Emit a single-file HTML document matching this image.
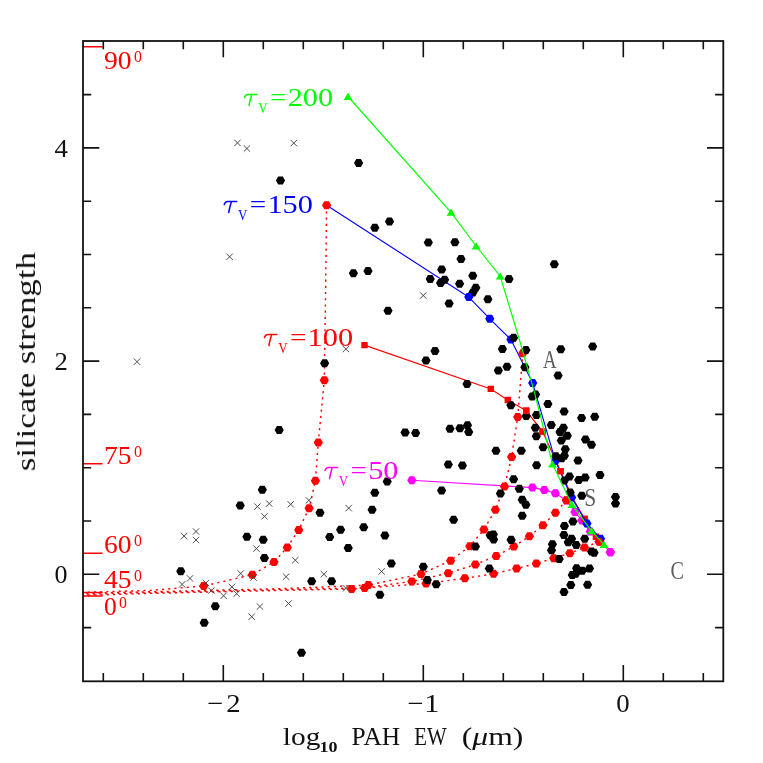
<!DOCTYPE html>
<html><head><meta charset="utf-8"><title>silicate strength vs PAH EW</title>
<style>html,body{margin:0;padding:0;background:#fff}svg{display:block}text{font-family:"Liberation Serif",serif}</style></head><body>
<svg width="763" height="763" viewBox="0 0 763 763">
<rect width="763" height="763" fill="#fff"/>
<g opacity="0.999">
<path d="M477.5,292.5L475.2,296.5L470.6,296.5L468.3,292.5L470.6,288.5L475.2,288.5Z" fill="#000"/>
<path d="M411.8,480.2 L532.4,487.6 L544.3,489.9 L555.4,493.3 L566.4,500.5 L575.0,512.0 L581.8,520.5 L590.3,531.6 L600.0,541.5 L610.3,552.2" stroke="#f0f" stroke-width="1.15" fill="none"/>
<path d="M416.4,480.2L414.1,484.2L409.5,484.2L407.2,480.2L409.5,476.2L414.1,476.2Z M537.0,487.6L534.7,491.6L530.1,491.6L527.8,487.6L530.1,483.6L534.7,483.6Z M548.9,489.9L546.6,493.9L542.0,493.9L539.7,489.9L542.0,485.9L546.6,485.9Z M560.0,493.3L557.7,497.3L553.1,497.3L550.8,493.3L553.1,489.3L557.7,489.3Z M571.0,500.5L568.7,504.5L564.1,504.5L561.8,500.5L564.1,496.5L568.7,496.5Z M579.6,512.0L577.3,516.0L572.7,516.0L570.4,512.0L572.7,508.0L577.3,508.0Z M586.4,520.5L584.1,524.5L579.5,524.5L577.2,520.5L579.5,516.5L584.1,516.5Z M594.9,531.6L592.6,535.6L588.0,535.6L585.7,531.6L588.0,527.6L592.6,527.6Z M604.6,541.5L602.3,545.5L597.7,545.5L595.4,541.5L597.7,537.5L602.3,537.5Z M614.9,552.2L612.6,556.2L608.0,556.2L605.7,552.2L608.0,548.2L612.6,548.2Z" fill="#f0f"/>
<path d="M364.5,345.1 L490.8,388.9 L507.8,400.0 L526.2,410.8 L542.6,431.6 L560.5,471.1 L573.5,499.5 L584.7,518.8 L595.9,536.7 L610.0,551.0" stroke="#f00" stroke-width="1.15" fill="none"/>
<path d="M361.3,341.9 h6.4 v6.4 h-6.4 Z M487.6,385.7 h6.4 v6.4 h-6.4 Z M504.6,396.8 h6.4 v6.4 h-6.4 Z M523.0,407.6 h6.4 v6.4 h-6.4 Z M539.4,428.4 h6.4 v6.4 h-6.4 Z M557.3,467.9 h6.4 v6.4 h-6.4 Z M581.5,515.6 h6.4 v6.4 h-6.4 Z M592.7,533.5 h6.4 v6.4 h-6.4 Z" fill="#f00"/>
<path d="M326.6,205.2 L468.8,297.1 L489.8,318.8 L510.9,339.5 L532.7,383.1 L555.4,460.9 L571.6,497.5 L586.9,523.4 L600.5,538.8 L610.0,551.0" stroke="#00f" stroke-width="1.15" fill="none"/>
<path d="M473.4,297.1L471.1,301.1L466.5,301.1L464.2,297.1L466.5,293.1L471.1,293.1Z M494.4,318.8L492.1,322.8L487.5,322.8L485.2,318.8L487.5,314.8L492.1,314.8Z M515.5,339.5L513.2,343.5L508.6,343.5L506.3,339.5L508.6,335.5L513.2,335.5Z M537.3,383.1L535.0,387.1L530.4,387.1L528.1,383.1L530.4,379.1L535.0,379.1Z M560.0,460.9L557.7,464.9L553.1,464.9L550.8,460.9L553.1,456.9L557.7,456.9Z M576.2,497.5L573.9,501.5L569.3,501.5L567.0,497.5L569.3,493.5L573.9,493.5Z M591.5,523.4L589.2,527.4L584.6,527.4L582.3,523.4L584.6,519.4L589.2,519.4Z M605.1,538.8L602.8,542.8L598.2,542.8L595.9,538.8L598.2,534.8L602.8,534.8Z" fill="#00f"/>
<path d="M326.6,205.2 L326.1,250.0 L325.2,320.0 L324.3,380.2 L318.3,442.4 L315.4,480.8 L309.1,508.2 L298.7,529.9 L287.3,547.4 L274.0,562.0 L252.3,574.7 L203.7,586.0 L150.0,590.4 L83.0,592.4" stroke="#f00" stroke-width="1.45" stroke-dasharray="2.1 4.1" fill="none"/>
<path d="M522.8,353.2 L517.7,417.1 L511.6,457.1 L504.5,486.6 L495.4,509.8 L483.9,529.5 L469.8,546.2 L450.6,560.7 L421.0,574.0 L368.3,585.1 L280.0,588.7 L150.0,591.8 L83.0,593.2" stroke="#f00" stroke-width="1.45" stroke-dasharray="2.1 4.1" fill="none"/>
<path d="M566.4,500.2 L555.4,512.8 L543.0,525.2 L529.4,536.2 L513.8,546.6 L496.2,555.9 L475.4,564.6 L448.2,573.2 L411.8,581.4 L364.6,587.9 L280.0,589.6 L150.0,592.6 L83.0,594.3" stroke="#f00" stroke-width="1.45" stroke-dasharray="2.1 4.1" fill="none"/>
<path d="M599.0,541.7 L584.5,547.5 L569.8,553.2 L553.7,558.3 L536.3,563.5 L516.6,568.4 L493.6,573.8 L464.8,578.3 L426.0,583.5 L351.6,589.0 L280.0,590.4 L150.0,593.4 L83.0,595.4" stroke="#f00" stroke-width="1.45" stroke-dasharray="2.1 4.1" fill="none"/>
<path d="M331.2,205.2L328.9,209.2L324.3,209.2L322.0,205.2L324.3,201.2L328.9,201.2Z M328.9,380.2L326.6,384.2L322.0,384.2L319.7,380.2L322.0,376.2L326.6,376.2Z M322.9,442.4L320.6,446.4L316.0,446.4L313.7,442.4L316.0,438.4L320.6,438.4Z M320.0,480.8L317.7,484.8L313.1,484.8L310.8,480.8L313.1,476.8L317.7,476.8Z M313.7,508.2L311.4,512.2L306.8,512.2L304.5,508.2L306.8,504.2L311.4,504.2Z M303.3,529.9L301.0,533.9L296.4,533.9L294.1,529.9L296.4,525.9L301.0,525.9Z M291.9,547.4L289.6,551.4L285.0,551.4L282.7,547.4L285.0,543.4L289.6,543.4Z M278.6,562.0L276.3,566.0L271.7,566.0L269.4,562.0L271.7,558.0L276.3,558.0Z M256.9,574.7L254.6,578.7L250.0,578.7L247.7,574.7L250.0,570.7L254.6,570.7Z M208.3,586.0L206.0,590.0L201.4,590.0L199.1,586.0L201.4,582.0L206.0,582.0Z" fill="#f00"/>
<path d="M527.4,353.2L525.1,357.2L520.5,357.2L518.2,353.2L520.5,349.2L525.1,349.2Z M522.3,417.1L520.0,421.1L515.4,421.1L513.1,417.1L515.4,413.1L520.0,413.1Z M516.2,457.1L513.9,461.1L509.3,461.1L507.0,457.1L509.3,453.1L513.9,453.1Z M509.1,486.6L506.8,490.6L502.2,490.6L499.9,486.6L502.2,482.6L506.8,482.6Z M500.0,509.8L497.7,513.8L493.1,513.8L490.8,509.8L493.1,505.8L497.7,505.8Z M488.5,529.5L486.2,533.5L481.6,533.5L479.3,529.5L481.6,525.5L486.2,525.5Z M474.4,546.2L472.1,550.2L467.5,550.2L465.2,546.2L467.5,542.2L472.1,542.2Z M455.2,560.7L452.9,564.7L448.3,564.7L446.0,560.7L448.3,556.7L452.9,556.7Z M425.6,574.0L423.3,578.0L418.7,578.0L416.4,574.0L418.7,570.0L423.3,570.0Z M372.9,585.1L370.6,589.1L366.0,589.1L363.7,585.1L366.0,581.1L370.6,581.1Z" fill="#f00"/>
<path d="M571.0,500.2L568.7,504.2L564.1,504.2L561.8,500.2L564.1,496.2L568.7,496.2Z M560.0,512.8L557.7,516.8L553.1,516.8L550.8,512.8L553.1,508.8L557.7,508.8Z M547.6,525.2L545.3,529.2L540.7,529.2L538.4,525.2L540.7,521.2L545.3,521.2Z M534.0,536.2L531.7,540.2L527.1,540.2L524.8,536.2L527.1,532.2L531.7,532.2Z M518.4,546.6L516.1,550.6L511.5,550.6L509.2,546.6L511.5,542.6L516.1,542.6Z M500.8,555.9L498.5,559.9L493.9,559.9L491.6,555.9L493.9,551.9L498.5,551.9Z M480.0,564.6L477.7,568.6L473.1,568.6L470.8,564.6L473.1,560.6L477.7,560.6Z M452.8,573.2L450.5,577.2L445.9,577.2L443.6,573.2L445.9,569.2L450.5,569.2Z M416.4,581.4L414.1,585.4L409.5,585.4L407.2,581.4L409.5,577.4L414.1,577.4Z M369.2,587.9L366.9,591.9L362.3,591.9L360.0,587.9L362.3,583.9L366.9,583.9Z" fill="#f00"/>
<path d="M603.6,541.7L601.3,545.7L596.7,545.7L594.4,541.7L596.7,537.7L601.3,537.7Z M589.1,547.5L586.8,551.5L582.2,551.5L579.9,547.5L582.2,543.5L586.8,543.5Z M574.4,553.2L572.1,557.2L567.5,557.2L565.2,553.2L567.5,549.2L572.1,549.2Z M558.3,558.3L556.0,562.3L551.4,562.3L549.1,558.3L551.4,554.3L556.0,554.3Z M540.9,563.5L538.6,567.5L534.0,567.5L531.7,563.5L534.0,559.5L538.6,559.5Z M521.2,568.4L518.9,572.4L514.3,572.4L512.0,568.4L514.3,564.4L518.9,564.4Z M498.2,573.8L495.9,577.8L491.3,577.8L489.0,573.8L491.3,569.8L495.9,569.8Z M469.4,578.3L467.1,582.3L462.5,582.3L460.2,578.3L462.5,574.3L467.1,574.3Z M430.6,583.5L428.3,587.5L423.7,587.5L421.4,583.5L423.7,579.5L428.3,579.5Z M356.2,589.0L353.9,593.0L349.3,593.0L347.0,589.0L349.3,585.0L353.9,585.0Z" fill="#f00"/>
<path d="M234.3,139.7 l6.4,6.4 M234.3,146.1 l6.4,-6.4 M243.7,145.3 l6.4,6.4 M243.7,151.7 l6.4,-6.4 M290.6,139.9 l6.4,6.4 M290.6,146.3 l6.4,-6.4 M226.4,253.6 l6.4,6.4 M226.4,260.0 l6.4,-6.4 M133.8,358.5 l6.4,6.4 M133.8,364.9 l6.4,-6.4 M342.7,345.8 l6.4,6.4 M342.7,352.2 l6.4,-6.4 M420.0,292.3 l6.4,6.4 M420.0,298.7 l6.4,-6.4 M254.2,503.4 l6.4,6.4 M254.2,509.8 l6.4,-6.4 M266.0,500.4 l6.4,6.4 M266.0,506.8 l6.4,-6.4 M261.3,513.1 l6.4,6.4 M261.3,519.5 l6.4,-6.4 M287.5,501.1 l6.4,6.4 M287.5,507.5 l6.4,-6.4 M305.7,497.2 l6.4,6.4 M305.7,503.6 l6.4,-6.4 M253.2,545.4 l6.4,6.4 M253.2,551.8 l6.4,-6.4 M292.1,557.0 l6.4,6.4 M292.1,563.4 l6.4,-6.4 M237.5,570.3 l6.4,6.4 M237.5,576.7 l6.4,-6.4 M250.3,574.3 l6.4,6.4 M250.3,580.7 l6.4,-6.4 M282.9,573.5 l6.4,6.4 M282.9,579.9 l6.4,-6.4 M320.7,571.0 l6.4,6.4 M320.7,577.4 l6.4,-6.4 M228.7,583.7 l6.4,6.4 M228.7,590.1 l6.4,-6.4 M342.8,585.1 l6.4,6.4 M342.8,591.5 l6.4,-6.4 M180.9,532.9 l6.4,6.4 M180.9,539.3 l6.4,-6.4 M192.8,528.3 l6.4,6.4 M192.8,534.7 l6.4,-6.4 M192.8,536.8 l6.4,6.4 M192.8,543.2 l6.4,-6.4 M186.8,575.2 l6.4,6.4 M186.8,581.6 l6.4,-6.4 M178.9,581.2 l6.4,6.4 M178.9,587.6 l6.4,-6.4 M202.7,579.8 l6.4,6.4 M202.7,586.2 l6.4,-6.4 M208.1,587.4 l6.4,6.4 M208.1,593.8 l6.4,-6.4 M220.4,592.6 l6.4,6.4 M220.4,599.0 l6.4,-6.4 M233.4,590.5 l6.4,6.4 M233.4,596.9 l6.4,-6.4 M256.7,603.3 l6.4,6.4 M256.7,609.7 l6.4,-6.4 M248.5,613.5 l6.4,6.4 M248.5,619.9 l6.4,-6.4 M285.3,600.3 l6.4,6.4 M285.3,606.7 l6.4,-6.4 M345.5,504.9 l6.4,6.4 M345.5,511.3 l6.4,-6.4 M378.4,568.3 l6.4,6.4 M378.4,574.7 l6.4,-6.4" stroke="#3a3a3a" stroke-width="0.9" fill="none"/>
<path d="M363.2,163.0L360.9,167.0L356.3,167.0L354.0,163.0L356.3,159.0L360.9,159.0Z M285.1,180.6L282.8,184.6L278.2,184.6L275.9,180.6L278.2,176.6L282.8,176.6Z M379.4,227.8L377.1,231.8L372.5,231.8L370.2,227.8L372.5,223.8L377.1,223.8Z M394.1,221.5L391.8,225.5L387.2,225.5L384.9,221.5L387.2,217.5L391.8,217.5Z M432.9,242.6L430.6,246.6L426.0,246.6L423.7,242.6L426.0,238.6L430.6,238.6Z M459.5,242.3L457.2,246.3L452.6,246.3L450.3,242.3L452.6,238.3L457.2,238.3Z M465.6,259.1L463.3,263.1L458.7,263.1L456.4,259.1L458.7,255.1L463.3,255.1Z M446.3,269.5L444.0,273.5L439.4,273.5L437.1,269.5L439.4,265.5L444.0,265.5Z M434.8,278.9L432.5,282.9L427.9,282.9L425.6,278.9L427.9,274.9L432.5,274.9Z M449.2,279.7L446.9,283.7L442.3,283.7L440.0,279.7L442.3,275.7L446.9,275.7Z M445.2,283.1L442.9,287.1L438.3,287.1L436.0,283.1L438.3,279.1L442.9,279.1Z M464.2,283.8L461.9,287.8L457.3,287.8L455.0,283.8L457.3,279.8L461.9,279.8Z M477.4,275.8L475.1,279.8L470.5,279.8L468.2,275.8L470.5,271.8L475.1,271.8Z M480.4,287.7L478.1,291.7L473.5,291.7L471.2,287.7L473.5,283.7L478.1,283.7Z M492.5,299.2L490.2,303.2L485.6,303.2L483.3,299.2L485.6,295.2L490.2,295.2Z M453.7,303.4L451.4,307.4L446.8,307.4L444.5,303.4L446.8,299.4L451.4,299.4Z M513.6,278.9L511.3,282.9L506.7,282.9L504.4,278.9L506.7,274.9L511.3,274.9Z M358.0,273.3L355.7,277.3L351.1,277.3L348.8,273.3L351.1,269.3L355.7,269.3Z M372.6,271.1L370.3,275.1L365.7,275.1L363.4,271.1L365.7,267.1L370.3,267.1Z M392.6,310.8L390.3,314.8L385.7,314.8L383.4,310.8L385.7,306.8L390.3,306.8Z M329.2,363.3L326.9,367.3L322.3,367.3L320.0,363.3L322.3,359.3L326.9,359.3Z M558.9,264.2L556.6,268.2L552.0,268.2L549.7,264.2L552.0,260.2L556.6,260.2Z M439.6,351.0L437.3,355.0L432.7,355.0L430.4,351.0L432.7,347.0L437.3,347.0Z M430.6,360.5L428.3,364.5L423.7,364.5L421.4,360.5L423.7,356.5L428.3,356.5Z M471.6,384.0L469.3,388.0L464.7,388.0L462.4,384.0L464.7,380.0L469.3,380.0Z M507.0,349.1L504.7,353.1L500.1,353.1L497.8,349.1L500.1,345.1L504.7,345.1Z M530.5,349.9L528.2,353.9L523.6,353.9L521.3,349.9L523.6,345.9L528.2,345.9Z M565.4,349.2L563.1,353.2L558.5,353.2L556.2,349.2L558.5,345.2L563.1,345.2Z M597.3,346.5L595.0,350.5L590.4,350.5L588.1,346.5L590.4,342.5L595.0,342.5Z M511.6,366.8L509.3,370.8L504.7,370.8L502.4,366.8L504.7,362.8L509.3,362.8Z M502.9,370.4L500.6,374.4L496.0,374.4L493.7,370.4L496.0,366.4L500.6,366.4Z M529.5,367.3L527.2,371.3L522.6,371.3L520.3,367.3L522.6,363.3L527.2,363.3Z M562.7,375.5L560.4,379.5L555.8,379.5L553.5,375.5L555.8,371.5L560.4,371.5Z M540.2,394.6L537.9,398.6L533.3,398.6L531.0,394.6L533.3,390.6L537.9,390.6Z M536.8,396.6L534.5,400.6L529.9,400.6L527.6,396.6L529.9,392.6L534.5,392.6Z M552.5,403.9L550.2,407.9L545.6,407.9L543.3,403.9L545.6,399.9L550.2,399.9Z M568.7,411.6L566.4,415.6L561.8,415.6L559.5,411.6L561.8,407.6L566.4,407.6Z M515.5,405.3L513.2,409.3L508.6,409.3L506.3,405.3L508.6,401.3L513.2,401.3Z M530.8,415.9L528.5,419.9L523.9,419.9L521.6,415.9L523.9,411.9L528.5,411.9Z M541.1,415.0L538.8,419.0L534.2,419.0L531.9,415.0L534.2,411.0L538.8,411.0Z M586.2,418.1L583.9,422.1L579.3,422.1L577.0,418.1L579.3,414.1L583.9,414.1Z M599.3,416.7L597.0,420.7L592.4,420.7L590.1,416.7L592.4,412.7L597.0,412.7Z M555.9,424.9L553.6,428.9L549.0,428.9L546.7,424.9L549.0,420.9L553.6,420.9Z M539.9,427.8L537.6,431.8L533.0,431.8L530.7,427.8L533.0,423.8L537.6,423.8Z M568.0,427.8L565.7,431.8L561.1,431.8L558.8,427.8L561.1,423.8L565.7,423.8Z M518.2,337.8L515.9,341.8L511.3,341.8L509.0,337.8L511.3,333.8L515.9,333.8Z M540.9,436.2L538.6,440.2L534.0,440.2L531.7,436.2L534.0,432.2L538.6,432.2Z M564.6,431.9L562.3,435.9L557.7,435.9L555.4,431.9L557.7,427.9L562.3,427.9Z M571.9,435.7L569.6,439.7L565.0,439.7L562.7,435.7L565.0,431.7L569.6,431.7Z M565.9,440.4L563.6,444.4L559.0,444.4L556.7,440.4L559.0,436.4L563.6,436.4Z M590.1,439.6L587.8,443.6L583.2,443.6L580.9,439.6L583.2,435.6L587.8,435.6Z M596.1,444.7L593.8,448.7L589.2,448.7L586.9,444.7L589.2,440.7L593.8,440.7Z M547.7,447.3L545.4,451.3L540.8,451.3L538.5,447.3L540.8,443.3L545.4,443.3Z M569.9,449.3L567.6,453.3L563.0,453.3L560.7,449.3L563.0,445.3L567.6,445.3Z M525.9,450.7L523.6,454.7L519.0,454.7L516.7,450.7L519.0,446.7L523.6,446.7Z M569.0,455.8L566.7,459.8L562.1,459.8L559.8,455.8L562.1,451.8L566.7,451.8Z M566.3,458.3L564.0,462.3L559.4,462.3L557.1,458.3L559.4,454.3L564.0,454.3Z M560.5,456.3L558.2,460.3L553.6,460.3L551.3,456.3L553.6,452.3L558.2,452.3Z M582.6,460.4L580.3,464.4L575.7,464.4L573.4,460.4L575.7,456.4L580.3,456.4Z M541.2,465.2L538.9,469.2L534.3,469.2L532.0,465.2L534.3,461.2L538.9,461.2Z M604.6,475.0L602.3,479.0L597.7,479.0L595.4,475.0L597.7,471.0L602.3,471.0Z M574.1,476.6L571.8,480.6L567.2,480.6L564.9,476.6L567.2,472.6L571.8,472.6Z M569.0,480.5L566.7,484.5L562.1,484.5L559.8,480.5L562.1,476.5L566.7,476.5Z M589.8,477.6L587.5,481.6L582.9,481.6L580.6,477.6L582.9,473.6L587.5,473.6Z M583.3,480.1L581.0,484.1L576.4,484.1L574.1,480.1L576.4,476.1L581.0,476.1Z M518.2,479.3L515.9,483.3L511.3,483.3L509.0,479.3L511.3,475.3L515.9,475.3Z M523.9,488.7L521.6,492.7L517.0,492.7L514.7,488.7L517.0,484.7L521.6,484.7Z M505.0,493.4L502.7,497.4L498.1,497.4L495.8,493.4L498.1,489.4L502.7,489.4Z M574.8,492.4L572.5,496.4L567.9,496.4L565.6,492.4L567.9,488.4L572.5,488.4Z M586.4,495.8L584.1,499.8L579.5,499.8L577.2,495.8L579.5,491.8L584.1,491.8Z M620.1,497.0L617.8,501.0L613.2,501.0L610.9,497.0L613.2,493.0L617.8,493.0Z M620.1,503.5L617.8,507.5L613.2,507.5L610.9,503.5L613.2,499.5L617.8,499.5Z M526.8,499.7L524.5,503.7L519.9,503.7L517.6,499.7L519.9,495.7L524.5,495.7Z M530.5,504.7L528.2,508.7L523.6,508.7L521.3,504.7L523.6,500.7L528.2,500.7Z M526.8,515.8L524.5,519.8L519.9,519.8L517.6,515.8L519.9,511.8L524.5,511.8Z M577.5,521.4L575.2,525.4L570.6,525.4L568.3,521.4L570.6,517.4L575.2,517.4Z M569.0,526.0L566.7,530.0L562.1,530.0L559.8,526.0L562.1,522.0L566.7,522.0Z M568.5,535.0L566.2,539.0L561.6,539.0L559.3,535.0L561.6,531.0L566.2,531.0Z M576.2,538.8L573.9,542.8L569.3,542.8L567.0,538.8L569.3,534.8L573.9,534.8Z M589.3,538.8L587.0,542.8L582.4,542.8L580.1,538.8L582.4,534.8L587.0,534.8Z M572.8,542.3L570.5,546.3L565.9,546.3L563.6,542.3L565.9,538.3L570.5,538.3Z M580.8,544.9L578.5,548.9L573.9,548.9L571.6,544.9L573.9,540.9L578.5,540.9Z M557.0,544.3L554.7,548.3L550.1,548.3L547.8,544.3L550.1,540.3L554.7,540.3Z M515.7,539.8L513.4,543.8L508.8,543.8L506.5,539.8L508.8,535.8L513.4,535.8Z M556.1,550.3L553.8,554.3L549.2,554.3L546.9,550.3L549.2,546.3L553.8,546.3Z M563.8,559.1L561.5,563.1L556.9,563.1L554.6,559.1L556.9,555.1L561.5,555.1Z M596.2,551.6L593.9,555.6L589.3,555.6L587.0,551.6L589.3,547.6L593.9,547.6Z M598.7,552.8L596.4,556.8L591.8,556.8L589.5,552.8L591.8,548.8L596.4,548.8Z M581.2,568.2L578.9,572.2L574.3,572.2L572.0,568.2L574.3,564.2L578.9,564.2Z M586.8,570.7L584.5,574.7L579.9,574.7L577.6,570.7L579.9,566.7L584.5,566.7Z M594.1,568.5L591.8,572.5L587.2,572.5L584.9,568.5L587.2,564.5L591.8,564.5Z M580.3,573.8L578.0,577.8L573.4,577.8L571.1,573.8L573.4,569.8L578.0,569.8Z M576.9,575.0L574.6,579.0L570.0,579.0L567.7,575.0L570.0,571.0L574.6,571.0Z M575.4,584.9L573.1,588.9L568.5,588.9L566.2,584.9L568.5,580.9L573.1,580.9Z M592.2,584.7L589.9,588.7L585.3,588.7L583.0,584.7L585.3,580.7L589.9,580.7Z M568.6,592.0L566.3,596.0L561.7,596.0L559.4,592.0L561.7,588.0L566.3,588.0Z M409.6,432.6L407.3,436.6L402.7,436.6L400.4,432.6L402.7,428.6L407.3,428.6Z M420.2,433.1L417.9,437.1L413.3,437.1L411.0,433.1L413.3,429.1L417.9,429.1Z M454.6,428.8L452.3,432.8L447.7,432.8L445.4,428.8L447.7,424.8L452.3,424.8Z M464.5,428.3L462.2,432.3L457.6,432.3L455.3,428.3L457.6,424.3L462.2,424.3Z M472.1,425.3L469.8,429.3L465.2,429.3L462.9,425.3L465.2,421.3L469.8,421.3Z M473.3,432.1L471.0,436.1L466.4,436.1L464.1,432.1L466.4,428.1L471.0,428.1Z M500.6,450.8L498.3,454.8L493.7,454.8L491.4,450.8L493.7,446.8L498.3,446.8Z M452.9,464.5L450.6,468.5L446.0,468.5L443.7,464.5L446.0,460.5L450.6,460.5Z M467.0,465.5L464.7,469.5L460.1,469.5L457.8,465.5L460.1,461.5L464.7,461.5Z M446.2,490.4L443.9,494.4L439.3,494.4L437.0,490.4L439.3,486.4L443.9,486.4Z M458.2,519.7L455.9,523.7L451.3,523.7L449.0,519.7L451.3,515.7L455.9,515.7Z M494.8,535.2L492.5,539.2L487.9,539.2L485.6,535.2L487.9,531.2L492.5,531.2Z M497.9,534.6L495.6,538.6L491.0,538.6L488.7,534.6L491.0,530.6L495.6,530.6Z M498.2,539.4L495.9,543.4L491.3,543.4L489.0,539.4L491.3,535.4L495.9,535.4Z M515.8,539.9L513.5,543.9L508.9,543.9L506.6,539.9L508.9,535.9L513.5,535.9Z M480.0,546.6L477.7,550.6L473.1,550.6L470.8,546.6L473.1,542.6L477.7,542.6Z M493.9,568.4L491.6,572.4L487.0,572.4L484.7,568.4L487.0,564.4L491.6,564.4Z M427.9,566.7L425.6,570.7L421.0,570.7L418.7,566.7L421.0,562.7L425.6,562.7Z M431.9,580.0L429.6,584.0L425.0,584.0L422.7,580.0L425.0,576.0L429.6,576.0Z M440.8,584.2L438.5,588.2L433.9,588.2L431.6,584.2L433.9,580.2L438.5,580.2Z M391.8,481.6L389.5,485.6L384.9,485.6L382.6,481.6L384.9,477.6L389.5,477.6Z M379.4,492.8L377.1,496.8L372.5,496.8L370.2,492.8L372.5,488.8L377.1,488.8Z M376.7,509.8L374.4,513.8L369.8,513.8L367.5,509.8L369.8,505.8L374.4,505.8Z M345.2,529.7L342.9,533.7L338.3,533.7L336.0,529.7L338.3,525.7L342.9,525.7Z M368.3,527.2L366.0,531.2L361.4,531.2L359.1,527.2L361.4,523.2L366.0,523.2Z M334.3,537.1L332.0,541.1L327.4,541.1L325.1,537.1L327.4,533.1L332.0,533.1Z M389.5,535.4L387.2,539.4L382.6,539.4L380.3,535.4L382.6,531.4L387.2,531.4Z M352.8,547.9L350.5,551.9L345.9,551.9L343.6,547.9L345.9,543.9L350.5,543.9Z M395.9,563.5L393.6,567.5L389.0,567.5L386.7,563.5L389.0,559.5L393.6,559.5Z M336.2,581.2L333.9,585.2L329.3,585.2L327.0,581.2L329.3,577.2L333.9,577.2Z M384.5,594.7L382.2,598.7L377.6,598.7L375.3,594.7L377.6,590.7L382.2,590.7Z M409.8,432.5L407.5,436.5L402.9,436.5L400.6,432.5L402.9,428.5L407.5,428.5Z M266.9,489.8L264.6,493.8L260.0,493.8L257.7,489.8L260.0,485.8L264.6,485.8Z M244.8,505.5L242.5,509.5L237.9,509.5L235.6,505.5L237.9,501.5L242.5,501.5Z M324.6,512.8L322.3,516.8L317.7,516.8L315.4,512.8L317.7,508.8L322.3,508.8Z M251.5,536.7L249.2,540.7L244.6,540.7L242.3,536.7L244.6,532.7L249.2,532.7Z M267.8,539.8L265.5,543.8L260.9,543.8L258.6,539.8L260.9,535.8L265.5,535.8Z M269.0,558.0L266.7,562.0L262.1,562.0L259.8,558.0L262.1,554.0L266.7,554.0Z M316.3,581.3L314.0,585.3L309.4,585.3L307.1,581.3L309.4,577.3L314.0,577.3Z M185.4,571.2L183.1,575.2L178.5,575.2L176.2,571.2L178.5,567.2L183.1,567.2Z M219.9,606.2L217.6,610.2L213.0,610.2L210.7,606.2L213.0,602.2L217.6,602.2Z M208.8,622.7L206.5,626.7L201.9,626.7L199.6,622.7L201.9,618.7L206.5,618.7Z M306.1,652.8L303.8,656.8L299.2,656.8L296.9,652.8L299.2,648.8L303.8,648.8Z M283.8,430.0L281.5,434.0L276.9,434.0L274.6,430.0L276.9,426.0L281.5,426.0Z" fill="#000"/>
<g fill="#5c5c5c" font-size="26">
<text x="543.0" y="368.3" textLength="13.6" lengthAdjust="spacingAndGlyphs">A</text>
<text x="584.3" y="505.7" textLength="12" lengthAdjust="spacingAndGlyphs">S</text>
<text x="670.4" y="579.0" textLength="13.4" lengthAdjust="spacingAndGlyphs">C</text>
</g>
<path d="M523.0,407.6 h6.4 v6.4 h-6.4 Z M539.4,428.4 h6.4 v6.4 h-6.4 Z M557.3,467.9 h6.4 v6.4 h-6.4 Z" fill="#f00"/>
<path d="M348.0,96.5 L451.0,212.3 L476.1,246.0 L500.2,276.2 L519.5,340.0 L533.6,389.3 L541.4,419.7 L552.5,464.0 L571.9,504.7 L591.5,530.8 L604.0,544.6 L610.0,551.0" stroke="#0f0" stroke-width="1.15" fill="none"/>
<path d="M348.0,92.8 L343.6,99.9 L352.4,99.9 Z M451.0,208.6 L446.6,215.7 L455.4,215.7 Z M476.1,242.3 L471.7,249.4 L480.5,249.4 Z M500.2,272.5 L495.8,279.6 L504.6,279.6 Z M552.5,460.3 L548.1,467.4 L556.9,467.4 Z M571.9,501.0 L567.5,508.1 L576.3,508.1 Z M591.5,527.1 L587.1,534.2 L595.9,534.2 Z M604.0,540.9 L599.6,548.0 L608.4,548.0 Z" fill="#0f0"/>
<path d="M614.9,552.2L612.6,556.2L608.0,556.2L605.7,552.2L608.0,548.2L612.6,548.2Z" fill="#f0f"/>
<path d="M83.0,46.8 H102.6 M83.0,463.7 H102.6 M83.0,553.3 H102.6 M83.0,592.4 H102.6 M83.0,595.9 H102.6" stroke="#f00" stroke-width="1.5" fill="none"/>
<path d="M103.3,681.3 v-8.2 M103.3,41.0 v8.2 M143.3,681.3 v-8.2 M143.3,41.0 v8.2 M183.3,681.3 v-8.2 M183.3,41.0 v8.2 M223.3,681.3 v-16.3 M223.3,41.0 v16.3 M263.3,681.3 v-8.2 M263.3,41.0 v8.2 M303.3,681.3 v-8.2 M303.3,41.0 v8.2 M343.3,681.3 v-8.2 M343.3,41.0 v8.2 M383.3,681.3 v-8.2 M383.3,41.0 v8.2 M423.3,681.3 v-16.3 M423.3,41.0 v16.3 M463.3,681.3 v-8.2 M463.3,41.0 v8.2 M503.3,681.3 v-8.2 M503.3,41.0 v8.2 M543.3,681.3 v-8.2 M543.3,41.0 v8.2 M583.3,681.3 v-8.2 M583.3,41.0 v8.2 M623.3,681.3 v-16.3 M623.3,41.0 v16.3 M663.3,681.3 v-8.2 M663.3,41.0 v8.2 M703.3,681.3 v-8.2 M703.3,41.0 v8.2 M83.0,627.6 h8.2 M723.3,627.6 h-8.2 M83.0,574.3 h16.3 M723.3,574.3 h-16.3 M83.0,521.0 h8.2 M723.3,521.0 h-8.2 M83.0,467.7 h8.2 M723.3,467.7 h-8.2 M83.0,414.4 h8.2 M723.3,414.4 h-8.2 M83.0,361.1 h16.3 M723.3,361.1 h-16.3 M83.0,307.8 h8.2 M723.3,307.8 h-8.2 M83.0,254.5 h8.2 M723.3,254.5 h-8.2 M83.0,201.2 h8.2 M723.3,201.2 h-8.2 M83.0,147.9 h16.3 M723.3,147.9 h-16.3 M83.0,94.6 h8.2 M723.3,94.6 h-8.2" stroke="#111" stroke-width="1.6" fill="none"/>
<rect x="83.0" y="41.0" width="640.3" height="640.3" fill="none" stroke="#111" stroke-width="1.8"/>
<g fill="#111" font-size="26">
<text x="54.4" y="157.0" textLength="13.4" lengthAdjust="spacingAndGlyphs">4</text>
<text x="54.6" y="370.2" textLength="13.4" lengthAdjust="spacingAndGlyphs">2</text>
<text x="54.6" y="583.2" textLength="13.0" lengthAdjust="spacingAndGlyphs">0</text>
<text x="207.3" y="711.8" textLength="16.2" lengthAdjust="spacingAndGlyphs">−</text><text x="226.2" y="711.8" textLength="14.4" lengthAdjust="spacingAndGlyphs">2</text>
<text x="407.6" y="711.8" textLength="16.2" lengthAdjust="spacingAndGlyphs">−</text><text x="424.2" y="711.8" textLength="15.2" lengthAdjust="spacingAndGlyphs">1</text>
<text x="616.3" y="711.9" textLength="13.4" lengthAdjust="spacingAndGlyphs">0</text>
</g>
<g fill="#111" font-size="25.5">
<text x="282.8" y="745.2" textLength="37.6" lengthAdjust="spacingAndGlyphs">log</text>
<text x="319.6" y="752.4" font-size="14" font-weight="bold" textLength="18.0" lengthAdjust="spacingAndGlyphs">10</text>
<text x="351.6" y="745.2" textLength="48.6" lengthAdjust="spacingAndGlyphs">PAH</text>
<text x="414.3" y="745.2" textLength="32.4" lengthAdjust="spacingAndGlyphs">EW</text>
<text x="461.8" y="745.2" textLength="61.6" lengthAdjust="spacingAndGlyphs">(<tspan font-style="italic">μ</tspan>m)</text>
<text transform="translate(35.0,471.2) rotate(-90)" font-size="27" textLength="219.0" lengthAdjust="spacingAndGlyphs">silicate strength</text>
</g>
<g fill="#f00" font-size="26">
<text x="104.0" y="69.0" textLength="27.6" lengthAdjust="spacingAndGlyphs">90</text><text x="133.9" y="61.8" font-size="16" textLength="7.9" lengthAdjust="spacingAndGlyphs">0</text>
<text x="104.0" y="463.9" textLength="27.6" lengthAdjust="spacingAndGlyphs">75</text><text x="133.9" y="456.7" font-size="16" textLength="7.9" lengthAdjust="spacingAndGlyphs">0</text>
<text x="104.0" y="553.4" textLength="27.6" lengthAdjust="spacingAndGlyphs">60</text><text x="133.9" y="546.2" font-size="16" textLength="7.9" lengthAdjust="spacingAndGlyphs">0</text>
<text x="104.0" y="588.3" textLength="27.6" lengthAdjust="spacingAndGlyphs">45</text><text x="133.9" y="581.1" font-size="16" textLength="7.9" lengthAdjust="spacingAndGlyphs">0</text>
<text x="104.0" y="615.2" textLength="12.8" lengthAdjust="spacingAndGlyphs">0</text><text x="119.1" y="608.0" font-size="16" textLength="7.9" lengthAdjust="spacingAndGlyphs">0</text>
</g>
<g fill="#0f0" font-size="26"><path transform="translate(244.1,105.8)" d="M0.4,-8.3 C1.3,-10.6 2.6,-11.4 4.6,-11.2 L12.9,-11.2 M7.6,-11.2 C6.6,-7.2 5.2,-3.4 5.0,-0.2" stroke="#0f0" stroke-width="1.5" fill="none" stroke-linecap="round"/><text x="258.3" y="112.5" font-size="15" textLength="9.4" lengthAdjust="spacingAndGlyphs">V</text><text x="270.0" y="105.8" textLength="16.4" lengthAdjust="spacingAndGlyphs">=</text><text x="287.7" y="105.8" textLength="45.5" lengthAdjust="spacingAndGlyphs">200</text></g>
<g fill="#00f" font-size="26"><path transform="translate(223.8,212.8)" d="M0.4,-8.3 C1.3,-10.6 2.6,-11.4 4.6,-11.2 L12.9,-11.2 M7.6,-11.2 C6.6,-7.2 5.2,-3.4 5.0,-0.2" stroke="#00f" stroke-width="1.5" fill="none" stroke-linecap="round"/><text x="238.0" y="219.5" font-size="15" textLength="9.4" lengthAdjust="spacingAndGlyphs">V</text><text x="249.7" y="212.8" textLength="16.4" lengthAdjust="spacingAndGlyphs">=</text><text x="267.4" y="212.8" textLength="45.5" lengthAdjust="spacingAndGlyphs">150</text></g>
<g fill="#f00" font-size="26"><path transform="translate(264.0,345.8)" d="M0.4,-8.3 C1.3,-10.6 2.6,-11.4 4.6,-11.2 L12.9,-11.2 M7.6,-11.2 C6.6,-7.2 5.2,-3.4 5.0,-0.2" stroke="#f00" stroke-width="1.5" fill="none" stroke-linecap="round"/><text x="278.2" y="352.5" font-size="15" textLength="9.4" lengthAdjust="spacingAndGlyphs">V</text><text x="289.9" y="345.8" textLength="16.4" lengthAdjust="spacingAndGlyphs">=</text><text x="307.6" y="345.8" textLength="45.5" lengthAdjust="spacingAndGlyphs">100</text></g>
<g fill="#f0f" font-size="26"><path transform="translate(324.6,478.8)" d="M0.4,-8.3 C1.3,-10.6 2.6,-11.4 4.6,-11.2 L12.9,-11.2 M7.6,-11.2 C6.6,-7.2 5.2,-3.4 5.0,-0.2" stroke="#f0f" stroke-width="1.5" fill="none" stroke-linecap="round"/><text x="338.8" y="485.5" font-size="15" textLength="9.4" lengthAdjust="spacingAndGlyphs">V</text><text x="350.5" y="478.8" textLength="16.4" lengthAdjust="spacingAndGlyphs">=</text><text x="368.2" y="478.8" textLength="30.3" lengthAdjust="spacingAndGlyphs">50</text></g>
</g>
</svg></body></html>
